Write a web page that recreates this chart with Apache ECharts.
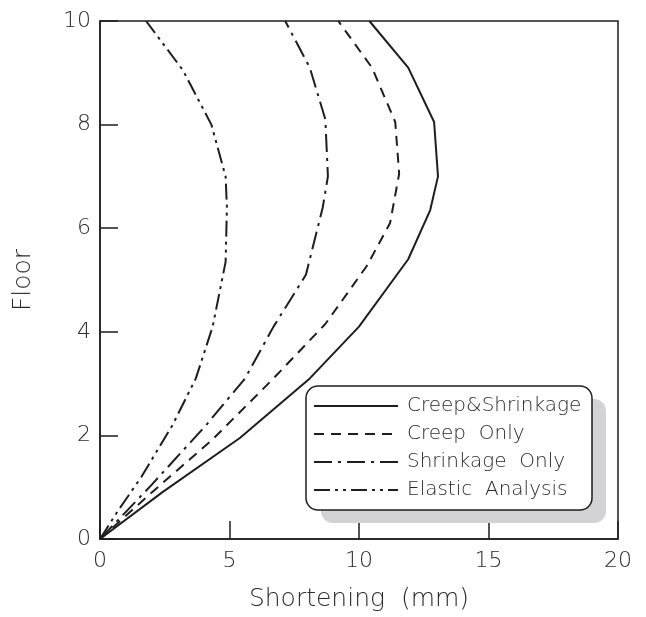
<!DOCTYPE html>
<html>
<head>
<meta charset="utf-8">
<script src="https://cdn.jsdelivr.net/npm/echarts@6/dist/echarts.min.js"></script>
<style>
  html, body { margin: 0; padding: 0; background: #fff; }
  #chart { width: 646px; height: 617px; }
</style>
</head>
<body>
<div id="chart"></div>
<script>
// shortening (mm) vs floor
const creepShrinkage = [[0, 0], [2.4, 0.9], [5.4, 1.95], [8.1, 3.1], [10.0, 4.1], [11.9, 5.4], [12.75, 6.35], [13.05, 7.0], [12.9, 8.05], [11.9, 9.1], [10.4, 10]]
const creepOnly = [[0, 0], [2.0, 0.9], [4.3, 1.9], [6.6, 3.05], [8.7, 4.15], [10.3, 5.27], [11.2, 6.1], [11.55, 7.05], [11.4, 8.05], [10.5, 9.1], [9.2, 10]]
const shrinkageOnly = [[0, 0], [2.0, 1.05], [4.1, 2.2], [5.6, 3.1], [6.7, 4.1], [7.95, 5.1], [8.6, 6.4], [8.8, 7.0], [8.7, 8.1], [8.1, 9.1], [7.15, 10]]
const elasticAnalysis = [[0, 0], [0.7, 0.55], [1.6, 1.2], [2.8, 2.2], [3.7, 3.1], [4.35, 4.1], [4.85, 5.35], [4.9, 6.4], [4.85, 7.0], [4.3, 8.0], [3.2, 9.05], [1.78, 10]]

const seriesNames = ['Creep&Shrinkage', 'Creep  Only', 'Shrinkage  Only', 'Elastic  Analysis']
const seriesData = [creepShrinkage, creepOnly, shrinkageOnly, elasticAnalysis]
const dashes = ['solid', [10, 7], [18, 6, 3, 6], [16, 5, 3, 5, 3, 5]]

const ink = '#1e1e1e'
const textInk = '#2a2a2a'
const font = 'DejaVu Sans'

const chart = echarts.init(document.getElementById('chart'))

const option = {
  animation: false,
  backgroundColor: '#fff',
  grid: {
    left: 100,
    top: 21,
    right: 28,
    bottom: 76,
    show: true,
    borderColor: ink,
    borderWidth: 1.5
  },
  xAxis: {
    type: 'value',
    min: 0,
    max: 20,
    interval: 5,
    name: 'Shortening  (mm)',
    nameLocation: 'middle',
    nameGap: 48,
    nameTextStyle: { fontFamily: font, fontWeight: 200, fontSize: 25, color: textInk },
    axisLine: { show: true, lineStyle: { color: ink, width: 1.5 } },
    axisTick: { show: true, inside: true, length: 18, lineStyle: { color: ink, width: 1.5 } },
    axisLabel: { fontFamily: font, fontWeight: 200, fontSize: 22, color: textInk, margin: 11 },
    splitLine: { show: false }
  },
  yAxis: {
    type: 'value',
    min: 0,
    max: 10,
    interval: 2,
    name: 'Floor',
    nameLocation: 'middle',
    nameGap: 64,
    nameTextStyle: { fontFamily: font, fontWeight: 200, fontSize: 25, color: textInk },
    axisLine: { show: true, lineStyle: { color: ink, width: 1.5 } },
    axisTick: { show: true, inside: true, length: 18, lineStyle: { color: ink, width: 1.5 } },
    axisLabel: { fontFamily: font, fontWeight: 200, fontSize: 22, color: textInk, margin: 9 },
    splitLine: { show: false }
  },
  legend: {
    orient: 'vertical',
    left: 306,
    top: 395,
    padding: [0, 0, 0, 7],
    itemWidth: 84,
    itemHeight: 14,
    itemGap: 6,
    itemStyle: { opacity: 0 },
    data: seriesNames,
    textStyle: { fontFamily: font, fontWeight: 200, fontSize: 20, color: textInk, lineHeight: 22, padding: [0, 0, 0, 4] }
  },
  graphic: [
    {
      type: 'rect',
      z: 1,
      shape: { x: 321, y: 399, width: 285, height: 124, r: 12 },
      style: { fill: '#d3d3d5' }
    },
    {
      type: 'rect',
      z: 2,
      shape: { x: 306, y: 386, width: 286, height: 124, r: 12 },
      style: { fill: '#fff', stroke: ink, lineWidth: 1.5 }
    }
  ],
  series: seriesData.map((d, i) => ({
    name: seriesNames[i],
    type: 'line',
    data: d,
    symbol: 'none',
    z: 3,
    lineStyle: { color: ink, width: 2, type: dashes[i] },
    itemStyle: { color: ink }
  }))
}

chart.setOption(option)
</script>
</body>
</html>
